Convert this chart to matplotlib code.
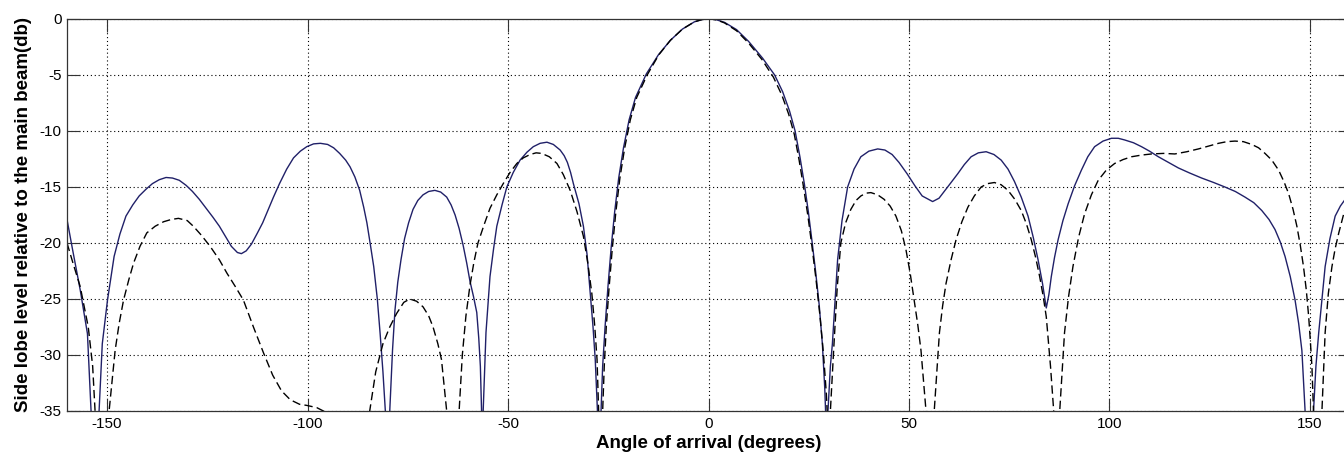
import matplotlib
matplotlib.use('Agg')
import matplotlib.pyplot as plt

# angle (deg) / level (dB); -50 marks nulls below the axis
solid_deg = [-160, -158.5, -156.7, -154.9, -154.0, -153.0, -152.0, -151.2, -149.9, -148.25,
             -146.8, -145.3, -143.6, -142, -140.3, -138.7, -137, -135.3, -133.7, -132, -130.3,
             -128.7, -127, -125.3, -123.6, -122, -120.5, -119, -117.5, -116.5, -115.3, -114,
             -112.5, -111.2, -109.8, -108.5, -107, -105.2, -103.5, -101.8, -100.2, -98.5, -96.8,
             -95, -93.5, -92, -90.5, -89.4, -88.2, -87, -86.0, -85.2, -84.4, -83.5, -82.6,
             -81.9, -81.2, -80.6, -80.1, -79.5, -78.8, -78.2, -77.5, -76.7, -75.8, -74.8,
             -73.7, -72.5, -71.2, -69.8, -68.25, -66.8, -65.3, -64.2, -63.2, -62.2, -61.2,
             -60.3, -59.5, -58.6, -57.8, -57.3, -56.9, -56.6, -56.4, -56.2, -55.5, -54.5,
             -53.6, -52.8, -51.5, -50.3, -48.7, -47, -45.3, -43.7, -42, -40.3, -38.7, -37,
             -36, -35.2, -34.4, -33.7, -32.3, -31.2, -30.3, -29.5, -28.8, -28.25, -27.7,
             -27.2, -26.8, -26.4, -25.8, -25.1, -24.3, -23.4, -22.4, -21.2, -19.8, -18.2,
             -15.5, -12.5, -9.5, -6.5, -3.5, -1.5, 0.5, 2, 4, 7, 10, 13.5, 16.5, 18.5, 20.2,
             21.6, 22.8, 23.9, 24.9, 25.8, 26.7, 27.6, 28.4, 29.0, 29.2, 29.5, 29.8, 30.4,
             30.9, 31.6, 32.2, 33.3, 34.7, 36.3, 38, 40, 42.2, 44, 45.8, 47.5, 49.5, 51.5,
             53.3, 55.9, 57.5, 58.8, 60.5, 62.2, 63.8, 65.5, 67.3, 69.25, 71.2, 73, 74.7, 76.3,
             78, 79.7, 81, 82.2, 83.3, 84.25, 84.9, 85.5, 86.3, 87.2, 88.4, 89.7, 91.3, 93,
             94.6, 96.3, 98.4, 100.5, 102.2, 103.8, 106, 108, 110, 112.2, 114.7, 117.2, 120,
             123, 126, 128.8, 131.4, 133.8, 136, 138, 139.8, 141.3, 142.6, 143.8, 145.1, 146.3,
             147.2, 148, 148.8, 149.8, 150.9, 151.5, 152.2, 153, 153.8, 155, 156.3, 157.6,
             158.8, 160]
solid_db = [-17.9, -20.8, -24.2, -28.1, -35, -50, -35, -29, -25.1, -21.2,
            -19.2, -17.6, -16.6, -15.8, -15.2, -14.7, -14.35, -14.15, -14.2, -14.4, -14.85,
            -15.4, -16.1, -16.9, -17.7, -18.5, -19.4, -20.3, -20.85, -20.95, -20.7, -20.1,
            -19.1, -18.2, -17.0, -15.9, -14.7, -13.4, -12.4, -11.8, -11.4, -11.15, -11.1,
            -11.2, -11.5, -12.0, -12.6, -13.2, -14.1, -15.3, -16.8, -18.2, -20, -22.1, -25,
            -28.1, -31.5, -35, -50, -35, -29.5, -26, -23.5, -21.5, -19.6, -18.2,
            -17.0, -16.2, -15.7, -15.4, -15.3, -15.45, -15.9, -16.6, -17.5, -18.7, -20.2,
            -21.8, -23.4, -24.8, -26.2, -28.5, -31, -35, -50, -35, -28, -23.0,
            -20.5, -18.5, -16.6, -15.0, -13.7, -12.6, -11.9, -11.4, -11.1, -11.0, -11.2, -11.7,
            -12.2, -12.8, -13.7, -14.7, -16.5, -18.5, -21, -24.5, -27.5, -30.4, -35,
            -50, -35, -31, -27.5, -24, -20.5, -17.2, -14.2, -11.5, -9.0, -7.0,
            -4.9, -3.2, -1.9, -0.9, -0.25, -0.04, 0, -0.07, -0.3, -0.95, -2.0, -3.5, -5, -6.5, -8.2,
            -10, -12.3, -14.7, -17.2, -19.8, -22.5, -25.5, -29, -33, -35, -50, -35, -31,
            -29, -25, -21.5, -18, -15, -13.4, -12.3, -11.8, -11.6, -11.7, -12.1, -12.8, -13.8, -14.9,
            -15.8, -16.3, -16.0, -15.4, -14.6, -13.8, -13.0, -12.3, -11.95, -11.85, -12.1, -12.6, -13.4, -14.5,
            -15.9, -17.6, -19.5, -21.5, -23.6, -25.8, -24.6, -23, -21.3, -19.7, -18.0, -16.5, -14.9, -13.5,
            -12.3, -11.4, -10.9, -10.65, -10.65, -10.8, -11.05, -11.4, -11.8, -12.3, -12.8, -13.3, -13.75,
            -14.2, -14.6, -15.0, -15.4, -15.9, -16.4, -17.1, -17.9, -18.8, -19.9, -21.2, -23.0, -25.1,
            -27.2, -29.6, -35, -50, -35, -31, -28, -25, -22.1, -19.6, -17.6, -16.7,
            -16.1, -15.4]

dashed_deg = [-160, -158.5, -156.7, -154.7, -153.6, -153.0, -151.2, -149.5, -148, -147, -145.9,
              -144.6, -143.4, -141.8, -140.1, -138, -135.9, -134, -132.2, -130, -128.5, -126.5,
              -124.3, -122, -120.1, -118, -116, -113.5, -111, -108.7, -106.5, -104.3, -102,
              -100.2, -97.7, -95.5, -90, -84.5, -83, -81.2, -79.5, -77.8, -76, -74.5, -72.8,
              -71.2, -69.8, -68.7, -67.5, -66.6, -66, -65.3, -63.6, -62.2, -61.4, -60.5, -59.5,
              -58.5, -57.5, -56, -54.5, -52.8, -51.2, -49.5, -47.8, -46.2, -44.5, -43, -41.6,
              -39.7, -37.8, -36.2, -34.5, -32.8, -31.2, -30.1, -29.1, -28.4, -27.8, -27.4,
              -26.9, -26.4, -26.0, -25.5, -24.8, -24.0, -23.1, -22.1, -20.9, -19.5, -17.9,
              -15.3, -12.4, -9.5, -6.5, -3.5, -1.5, 0.5, 2, 4, 7, 10, 13.3, 16.2, 18.3, 20,
              21.4, 22.6, 23.7, 24.8, 25.8, 26.8, 27.8, 28.7, 29.4, 29.6, 30.0, 30.4, 31.3,
              32.1, 33, 34.2, 35.5, 36.8, 38, 39.3, 40.5, 42.2, 43.8, 45.3, 46.75, 48.1, 49.25,
              50.3, 51.3, 52.2, 53, 54.25, 55.3, 56.3, 57.6, 58.4, 59.25, 60.5, 61.75, 63.2,
              64.7, 66.3, 68, 69.6, 71.3, 73, 74.7, 76.4, 78, 79.3, 80.5, 81.6, 82.6, 83.5,
              84.25, 85.3, 86.1, 86.8, 87.6, 88.8, 89.8, 90.9, 92.3, 93.8, 95.5, 97.2, 99.2,
              101.3, 103.4, 105.5, 108, 110.5, 113.5, 116.3, 119.3, 122.2, 124.7, 127.2, 129.3,
              131.3, 133.4, 135.5, 137.2, 138.8, 140.5, 142.2, 143.5, 144.7, 145.8, 146.75,
              147.6, 148.4, 149.1, 149.7, 150.1, 150.5, 150.9, 152.0, 153, 153.8, 154.6, 155.5,
              156.3, 157.2, 158.8, 160]
dashed_db = [-20.0, -21.8, -23.9, -27.5, -31, -35, -50, -35, -29.6, -27.2, -25.1,
             -23.3, -21.8, -20.3, -19.1, -18.5, -18.1, -17.9, -17.8, -18.0, -18.5, -19.3,
             -20.3, -21.5, -22.7, -23.9, -25.1, -27.5, -29.8, -31.8, -33.2, -34.0, -34.4,
             -34.5, -34.7, -35.1, -40, -35, -31.5, -29, -27.5, -26.3, -25.3, -25.0, -25.2,
             -25.7, -26.5, -27.5, -29, -30.4, -32.5, -35, -50, -35, -30, -26.5, -23.8,
             -21.7, -20.0, -18.4, -16.9, -15.7, -14.7, -13.7, -12.9, -12.4, -12.1, -11.95, -12.0,
             -12.3, -12.9, -13.9, -15.3, -17.2, -19.4, -21.8, -24.5, -27.3, -30.4, -35,
             -50, -35, -31, -27.5, -24, -20.5, -17.2, -14.2, -11.5, -9.0, -7.0,
             -5.0, -3.2, -1.9, -0.9, -0.25, -0.04, 0, -0.08, -0.35, -1.05, -2.15, -3.6, -5.2, -6.8, -8.5,
             -10.3, -12.6, -15, -17.6, -20.3, -23.2, -26.5, -30, -33.5, -35, -50, -35, -29,
             -24, -20, -18.2, -17, -16.2, -15.8, -15.55, -15.5, -15.7, -16.1, -16.7, -17.6, -18.9, -20.6,
             -22.7, -25.1, -27.3, -29.6, -35, -50, -35, -28, -25.6, -23.6, -21.5, -19.7, -18.1,
             -16.8, -15.8, -15.0, -14.7, -14.6, -14.8, -15.3, -16.1, -17.1, -18.3, -19.7, -21.3, -23, -24.8,
             -26.6, -31, -35, -50, -35, -28, -24.8, -22.1, -19.5, -17.4, -15.7, -14.4, -13.5,
             -12.9, -12.55, -12.3, -12.15, -12.05, -12.0, -12.05, -11.85, -11.6, -11.35, -11.1, -10.95,
             -10.9, -10.95, -11.2, -11.5, -12.0, -12.6, -13.5, -14.5, -15.6, -17.0, -18.5,
             -20.2, -22.1, -24.2, -26.6, -28.7, -31, -35, -50, -35, -28, -24.5, -22.1, -20.5,
             -19.1, -16.9, -15.8]

x_ticks = [-150, -100, -50, 0, 50, 100, 150]
y_ticks = [-35, -30, -25, -20, -15, -10, -5, 0]

plt.rcParams['font.family'] = ['Liberation Sans', 'DejaVu Sans']
plt.rcParams['axes.unicode_minus'] = False

fig = plt.figure(figsize=(13.44, 4.58), dpi=100)
# right edge of the axes sits just past the picture, as in the original crop
ax = fig.add_axes([67/1344, 1-411/458, 1283/1344, 392/458])

ax.plot(solid_deg, solid_db, color='#202068', lw=1.0)
ax.plot(dashed_deg, dashed_db, color='black', lw=1.0, linestyle=(0, (6, 3)))

ax.set_xlim(-160, 160)
ax.set_ylim(-35, 0)
ax.set_xticks(x_ticks)
ax.set_yticks(y_ticks)
ax.grid(True, color='black', linestyle=(0, (1, 2.5)), lw=0.8)
ax.tick_params(direction='in', length=9, width=0.8, color='#333333', top=True, right=True,
               labelsize=11, pad=4)
for sp in ax.spines.values():
    sp.set_linewidth(0.9)
    sp.set_color('#333333')

ax.set_xlabel('Angle of arrival (degrees)', fontsize=13.5, fontweight='bold', labelpad=3)
ax.set_ylabel('Side lobe level relative to the main beam(db)', fontsize=13.5,
              fontweight='bold')
ax.yaxis.set_label_coords(-0.027, 0.5)

fig.savefig('out.png', dpi=100)
